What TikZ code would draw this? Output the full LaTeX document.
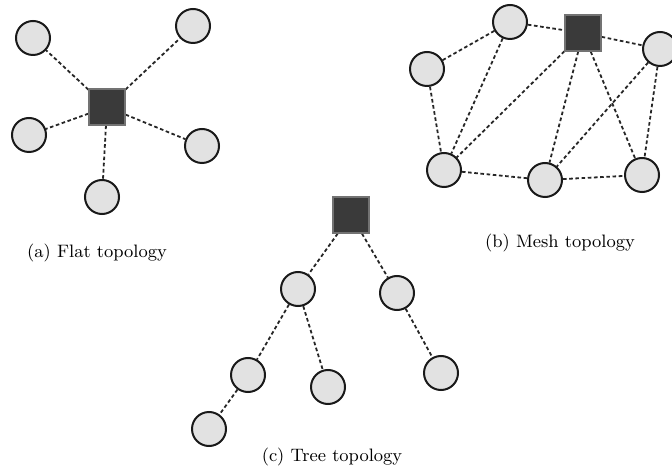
\documentclass[tikz,border=0pt]{standalone}
\usepackage{tikz}
\pgfdeclarelayer{bg}
\pgfsetlayers{bg,main}
\definecolor{nodegray}{HTML}{E2E2E2}
\definecolor{hubgray}{HTML}{3A3A3A}
\tikzset{
    peer/.style={circle, draw=black!90, line width=1pt, fill=nodegray, minimum size=17pt, inner sep=0mm},
    hub/.style={rectangle, draw=black!55, line width=0.6pt, fill=hubgray, minimum size=18pt, inner sep=0mm},
    link/.style={dashed, dash pattern=on 1.8pt off 1.3pt, line width=0.9pt, black!85},
    caption/.style={draw=none, font=\small}
}

\begin{document}
\begin{tikzpicture}[x=0.5pt, y=-0.5pt]
    \useasboundingbox (0,0) rectangle (672,469);

    % flat topology
    \node (fh) [hub] at (107,107) {};
    \node (f1) [peer] at (33,38) {};
    \node (f2) [peer] at (193,26) {};
    \node (f3) [peer] at (29,135) {};
    \node (f4) [peer] at (202,146) {};
    \node (f5) [peer] at (102,197) {};
    \node (fcap) [caption] at (97,253) {(a) Flat topology};

    \begin{pgfonlayer}{bg}
        \draw[link] (fh) edge (f1);
        \draw[link] (fh) edge (f2);
        \draw[link] (fh) edge (f3);
        \draw[link] (fh) edge (f4);
        \draw[link] (fh) edge (f5);
    \end{pgfonlayer}

    % mesh topology
    \node (mh) [hub] at (583,33) {};
    \node (m1) [peer] at (510,22) {};
    \node (m2) [peer] at (660,49) {};
    \node (m3) [peer] at (427,69) {};
    \node (m4) [peer] at (444,170) {};
    \node (m5) [peer] at (545,180) {};
    \node (m6) [peer] at (642,175) {};
    \node (mcap) [caption] at (560,243) {(b) Mesh topology};

    \begin{pgfonlayer}{bg}
        \draw[link] (m1) edge (mh);
        \draw[link] (mh) edge (m2);
        \draw[link] (m1) edge (m3);
        \draw[link] (m1) edge (m4);
        \draw[link] (m3) edge (m4);
        \draw[link] (mh) edge (m4);
        \draw[link] (mh) edge (m5);
        \draw[link] (mh) edge (m6);
        \draw[link] (m2) edge (m5);
        \draw[link] (m2) edge (m6);
        \draw[link] (m4) edge (m5);
        \draw[link] (m5) edge (m6);
    \end{pgfonlayer}

    % tree topology
    \node (th) [hub] at (351,215) {};
    \node (t1) [peer] at (298,289) {};
    \node (t2) [peer] at (397,293) {};
    \node (t3) [peer] at (248,375) {};
    \node (t4) [peer] at (328,387) {};
    \node (t5) [peer] at (441,373) {};
    \node (t6) [peer] at (209,429) {};
    \node (tcap) [caption] at (332,457) {(c) Tree topology};

    \begin{pgfonlayer}{bg}
        \draw[link] (th) edge (t1);
        \draw[link] (th) edge (t2);
        \draw[link] (t1) edge (t3);
        \draw[link] (t1) edge (t4);
        \draw[link] (t2) edge (t5);
        \draw[link] (t3) edge (t6);
    \end{pgfonlayer}
\end{tikzpicture}
\end{document}
